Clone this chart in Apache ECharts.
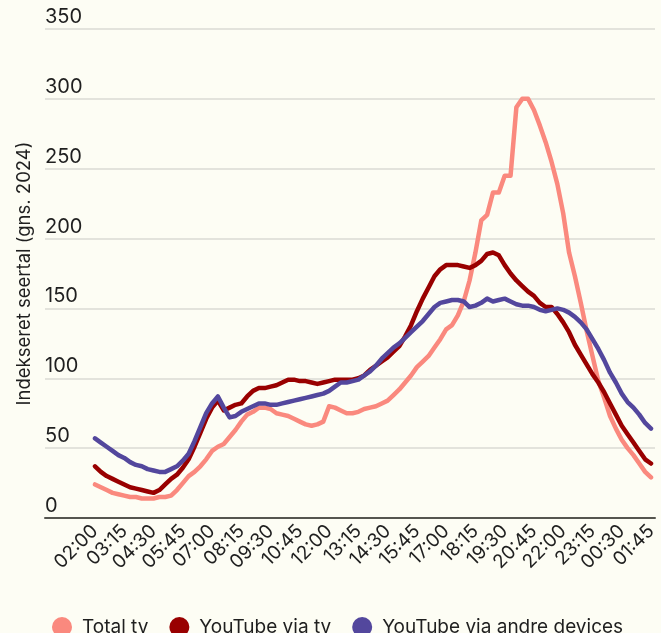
<!DOCTYPE html>
<html>
<head>
<meta charset="utf-8">
<script src="https://cdn.jsdelivr.net/npm/echarts@6/dist/echarts.min.js"></script>
<style>
  html, body { margin: 0; padding: 0; background: #fdfdf4; }
  #chart { width: 661px; height: 633px; }
</style>
</head>
<body>
<div id="chart"></div>
<script>
// Kvarter fra 02:00 til 01:45 (96 punkter)
const times = [];
for (let i = 0; i < 96; i++) {
  const m = (2 * 60 + i * 15) % (24 * 60);
  times.push(String(Math.floor(m / 60)).padStart(2, "0") + ":" + String(m % 60).padStart(2, "0"));
}

const totalTv = [
  24, 22, 20, 18, 17, 16, 15, 15, 14, 14,
  14, 15, 15, 16, 20, 25, 30, 33, 37, 42,
  48, 51, 53, 58, 63, 69, 74, 76, 79, 79,
  78, 75, 74, 73, 71, 69, 67, 66, 67, 69,
  80, 79, 77, 75, 75, 76, 78, 79, 80, 82,
  84, 88, 92, 97, 102, 108, 112, 116, 122, 128,
  135, 138, 145, 155, 170, 190, 213, 217, 233, 233,
  245, 245, 294, 300, 300, 292, 281, 269, 255, 239,
  218, 190, 173, 154, 134, 116, 98, 86, 73, 64,
  56, 50, 45, 39, 33, 29
];

const youtubeTv = [
  37, 33, 30, 28, 26, 24, 22, 21, 20, 19,
  18, 20, 24, 28, 31, 36, 42, 51, 61, 71,
  79, 84, 77, 79, 81, 82, 87, 91, 93, 93,
  94, 95, 97, 99, 99, 98, 98, 97, 96, 97,
  98, 99, 99, 99, 99, 100, 102, 106, 109, 112,
  115, 119, 123, 130, 138, 148, 157, 165, 173, 178,
  181, 181, 181, 180, 179, 181, 184, 189, 190, 188,
  181, 175, 170, 166, 162, 159, 154, 151, 151, 146,
  140, 133, 124, 117, 110, 103, 97, 90, 82, 74,
  66, 60, 54, 48, 42, 39
];

const youtubeDevices = [
  57, 54, 51, 48, 45, 43, 40, 38, 37, 35,
  34, 33, 33, 35, 37, 41, 46, 55, 65, 75,
  82, 87, 79, 72, 73, 76, 78, 80, 82, 82,
  81, 81, 82, 83, 84, 85, 86, 87, 88, 89,
  91, 94, 97, 97, 98, 99, 102, 105, 109, 114,
  118, 122, 125, 129, 133, 137, 141, 146, 151, 154,
  155, 156, 156, 155, 151, 152, 154, 157, 155, 156,
  157, 155, 153, 152, 152, 151, 149, 148, 149, 150,
  149, 147, 144, 140, 135, 128, 121, 113, 104, 97,
  89, 83, 79, 74, 68, 64
];

const yTicks = [0, 50, 100, 150, 200, 250, 300, 350];

const FONT = "Inter, 'Noto Sans', sans-serif";
const TEXT = "#1f1f1f";

const chart = echarts.init(document.getElementById("chart"));

function line(name, data, color) {
  return {
    name,
    type: "line",
    xAxisIndex: 1,
    yAxisIndex: 1,
    data,
    symbol: "none",
    lineStyle: { color, width: 4.5, join: "round", cap: "round" },
    itemStyle: { color },
    emphasis: { disabled: true },
  };
}

chart.setOption({
  backgroundColor: "#fdfdf4",
  animation: false,
  textStyle: { fontFamily: FONT },
  legend: {
    left: 47,
    top: 612,
    icon: "circle",
    itemWidth: 20,
    itemHeight: 20,
    itemGap: 21,
    textStyle: { color: TEXT, fontSize: 19, fontFamily: FONT, padding: [0, 0, 0, 5] },
    data: ["Total tv", "YouTube via tv", "YouTube via andre devices"],
  },
  grid: [
    { left: 45, right: 6, top: 29, bottom: 115 },
    { left: 95, right: 10, top: 29, bottom: 115 },
  ],
  xAxis: [
    {
      gridIndex: 0,
      type: "value",
      min: 0,
      max: 1,
      axisLine: { show: true, lineStyle: { color: "#55554f", width: 2 } },
      axisTick: { show: false },
      axisLabel: { show: false },
      splitLine: { show: false },
    },
    {
      gridIndex: 1,
      type: "category",
      data: times,
      boundaryGap: false,
      axisLine: { show: false },
      axisTick: { show: false },
      axisLabel: {
        interval: 4,
        rotate: 45,
        margin: 10,
        color: TEXT,
        fontSize: 19,
        fontFamily: FONT,
      },
      splitLine: { show: false },
    },
  ],
  yAxis: [
    {
      gridIndex: 0,
      type: "value",
      min: 0,
      max: 350,
      interval: 50,
      name: "Indekseret seertal (gns. 2024)",
      nameLocation: "middle",
      nameGap: 8,
      nameTextStyle: { color: TEXT, fontSize: 18.5, fontFamily: FONT },
      axisLine: { show: false },
      axisTick: { show: false },
      axisLabel: {
        inside: true,
        margin: 0,
        verticalAlign: "bottom",
        padding: [0, 0, 2, 0],
        color: TEXT,
        fontSize: 20,
        fontFamily: FONT,
        formatter: (v) => (yTicks.includes(v) ? String(v) : ""),
      },
      splitLine: { lineStyle: { color: "#e3e3dc", width: 2 } },
    },
    {
      gridIndex: 1,
      type: "value",
      min: 0,
      max: 350,
      show: false,
      splitLine: { show: false },
    },
  ],
  series: [
    line("Total tv", totalTv, "#fa897e"),
    line("YouTube via tv", youtubeTv, "#990000"),
    line("YouTube via andre devices", youtubeDevices, "#53479d"),
  ],
});
</script>
</body>
</html>
